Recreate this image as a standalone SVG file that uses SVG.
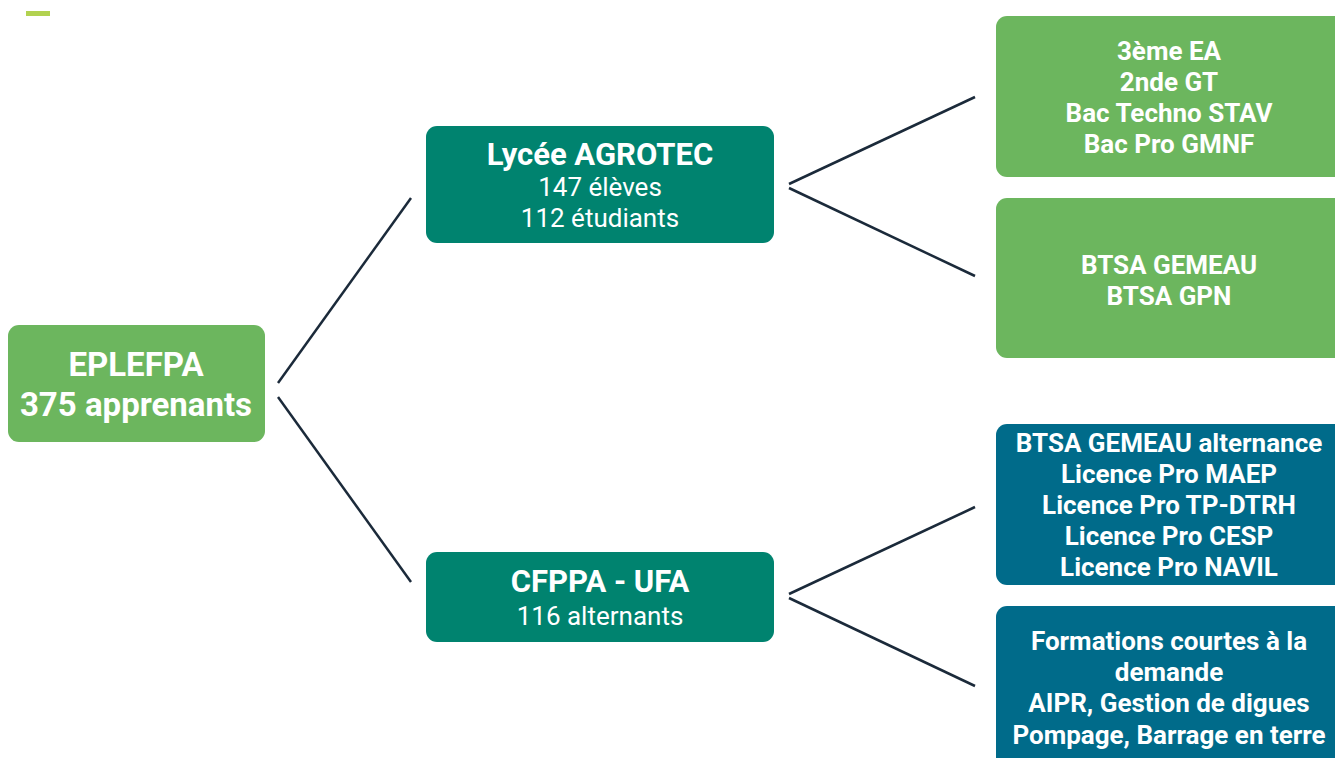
<svg xmlns="http://www.w3.org/2000/svg" width="1335" height="758" viewBox="0 0 1335 758">
<style>
.g{fill:#6cb65e}
.t{fill:#00836f}
.b{fill:#006b8a}
text{font-family:Roboto,"Liberation Sans",sans-serif;fill:#fff;text-anchor:middle}
.bd{font-weight:bold}
.r{font-weight:bold;font-size:26px}
.c line{stroke:#1b2a3a;stroke-width:2.5}
</style>
<rect width="1335" height="758" fill="#fff"/>
<rect x="26" y="11" width="24" height="5" fill="#b2d250"/>
<g class="c" id="connectors">
<line x1="278" y1="383" x2="411" y2="198"/>
<line x1="278" y1="397" x2="411" y2="582"/>
<line x1="789" y1="184" x2="975" y2="97"/>
<line x1="789" y1="188" x2="975" y2="276"/>
<line x1="789" y1="594" x2="975" y2="507"/>
<line x1="789" y1="598" x2="975" y2="686"/>
</g>
<g id="eplefpa">
<rect class="g" x="8" y="325" width="257" height="117" rx="11"/>
<text class="bd" x="136" y="376" font-size="33">EPLEFPA</text>
<text class="bd" x="136" y="416" font-size="33">375 apprenants</text>
</g>
<g id="lycee">
<rect class="t" x="426" y="126" width="348" height="117" rx="11"/>
<text class="bd" x="600" y="165" font-size="31">Lycée AGROTEC</text>
<text x="600" y="196" font-size="26">147 élèves</text>
<text x="600" y="227" font-size="26">112 étudiants</text>
</g>
<g id="cfppa">
<rect class="t" x="426" y="552" width="348" height="90" rx="11"/>
<text class="bd" x="600" y="592" font-size="31">CFPPA - UFA</text>
<text x="600" y="625" font-size="26">116 alternants</text>
</g>
<g id="lycee-formations">
<rect class="g" x="996" y="16" width="350" height="161" rx="11"/>
<text class="r" x="1169" y="60">3ème EA</text>
<text class="r" x="1169" y="91">2nde GT</text>
<text class="r" x="1169" y="122">Bac Techno STAV</text>
<text class="r" x="1169" y="153">Bac Pro GMNF</text>
</g>
<g id="lycee-btsa">
<rect class="g" x="996" y="198" width="350" height="160" rx="11"/>
<text class="r" x="1169" y="274">BTSA GEMEAU</text>
<text class="r" x="1169" y="305">BTSA GPN</text>
</g>
<g id="cfppa-formations">
<rect class="b" x="996" y="424" width="350" height="161" rx="11"/>
<text class="r" x="1169" y="452">BTSA GEMEAU alternance</text>
<text class="r" x="1169" y="483">Licence Pro MAEP</text>
<text class="r" x="1169" y="514">Licence Pro TP-DTRH</text>
<text class="r" x="1169" y="545">Licence Pro CESP</text>
<text class="r" x="1169" y="576">Licence Pro NAVIL</text>
</g>
<g id="cfppa-courtes">
<rect class="b" x="996" y="606" width="350" height="170" rx="11"/>
<text class="r" x="1169" y="650">Formations courtes à la</text>
<text class="r" x="1169" y="681">demande</text>
<text class="r" x="1169" y="712">AIPR, Gestion de digues</text>
<text class="r" x="1169" y="744">Pompage, Barrage en terre</text>
</g>
</svg>
